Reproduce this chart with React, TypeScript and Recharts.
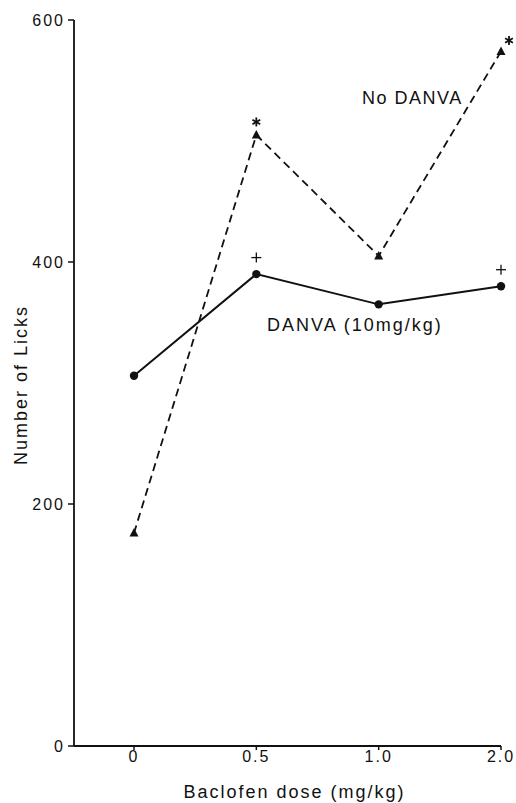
import React from 'react';
import { LineChart, Line, XAxis, YAxis } from 'recharts';

// Baclofen dose categories and lick counts
const doses = ['0', '0.5', '1.0', '2.0'];
const noDanva = [176, 505, 405, 574];
const danva = [306, 390, 365, 380];
const noDanvaSig = ['', '*', '', '*'];
const danvaSig = ['', '+', '', '+'];
const yTicks = [0, 200, 400, 600];

const data = doses.map((dose, i) => ({ dose, noDanva: noDanva[i], danva: danva[i] }));

const INK = '#111';
const FONT = '"Liberation Sans", Arial, sans-serif';

const Star = ({ x, y }: { x: number; y: number }) => {
    const r = 4.5;
    const lines = [0, 60, 120].map(a => {
        const rad = (a * Math.PI) / 180;
        return (
            <line key={a} x1={x - r * Math.sin(rad)} y1={y - r * Math.cos(rad)}
                x2={x + r * Math.sin(rad)} y2={y + r * Math.cos(rad)}
                stroke={INK} strokeWidth={1.8} />
        );
    });
    return <g>{lines}</g>;
};

const Plus = ({ x, y }: { x: number; y: number }) => (
    <g>
        <line x1={x - 5} y1={y} x2={x + 5} y2={y} stroke={INK} strokeWidth={1.3} />
        <line x1={x} y1={y - 5} x2={x} y2={y + 5} stroke={INK} strokeWidth={1.3} />
    </g>
);

const TriangleDot = (props: any) => {
    const { cx, cy, index } = props;
    const last = index === doses.length - 1;
    return (
        <g key={`t-${index}`}>
            <path d={`M${cx},${cy - 5} L${cx - 4.5},${cy + 3.5} L${cx + 4.5},${cy + 3.5} Z`} fill={INK} />
            {noDanvaSig[index] === '*' && <Star x={cx + (last ? 8 : 0)} y={cy - (last ? 11 : 13)} />}
        </g>
    );
};

const CircleDot = (props: any) => {
    const { cx, cy, index } = props;
    return (
        <g key={`c-${index}`}>
            <circle cx={cx} cy={cy} r={4.2} fill={INK} />
            {danvaSig[index] === '+' && <Plus x={cx} y={cy - 16.5} />}
        </g>
    );
};

const tickStyle = { fill: INK, fontSize: 16, fontFamily: FONT, letterSpacing: 2 };

export default function App() {
    return (
        <div style={{ position: 'absolute', left: 0, top: 0, background: '#fff' }}>
            <LineChart width={516} height={803} data={data}
                margin={{ top: 20, right: 15, bottom: 0, left: 0 }}>
                <XAxis dataKey="dose" type="category" padding={{ left: 60, right: 0 }}
                    height={57} tickSize={4} tickMargin={1}
                    axisLine={{ stroke: INK, strokeWidth: 1.8 }}
                    tickLine={{ stroke: INK, strokeWidth: 1.5 }}
                    tick={tickStyle}
                    label={{ value: 'Baclofen dose (mg/kg)', position: 'insideBottom', offset: 5, dx: 7,
                        style: { fill: INK, fontSize: 18, fontFamily: FONT, letterSpacing: 2 } }}
                />
                <YAxis type="number" domain={[0, 600]} ticks={yTicks} width={74}
                    tickSize={6} tickMargin={3} interval={0}
                    axisLine={{ stroke: INK, strokeWidth: 1.8 }}
                    tickLine={{ stroke: INK, strokeWidth: 1.5 }}
                    tick={tickStyle}
                    label={{ value: 'Number of Licks', angle: -90, position: 'insideLeft', offset: 21, dy: 2,
                        style: { fill: INK, fontSize: 18, fontFamily: FONT, letterSpacing: 2, textAnchor: 'middle' } }}
                />
                <Line dataKey="noDanva" stroke={INK} strokeWidth={1.8} strokeDasharray="8 5"
                    dot={TriangleDot} activeDot={false} isAnimationActive={false} />
                <Line dataKey="danva" stroke={INK} strokeWidth={2} dot={CircleDot}
                    activeDot={false} isAnimationActive={false} />
                <text x={362} y={104} fill={INK} fontSize={18} fontFamily={FONT} letterSpacing={1.5}>No DANVA</text>
                <text x={267} y={331} fill={INK} fontSize={18} fontFamily={FONT} letterSpacing={2}>DANVA (10mg/kg)</text>
            </LineChart>
        </div>
    );
}
